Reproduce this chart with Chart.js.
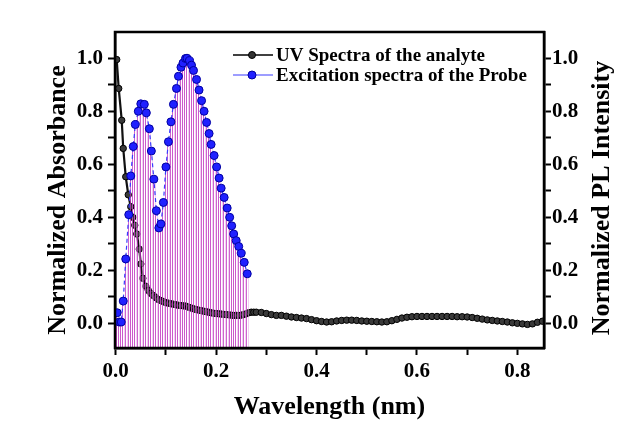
<!DOCTYPE html>
<html>
<head>
<meta charset="utf-8">
<script src="https://cdn.jsdelivr.net/npm/chart.js@4.4.1/dist/chart.umd.min.js"></script>
<style>
  body { margin: 0; background: #fff; }
  #wrap { width: 619px; height: 441px; }
</style>
</head>
<body>
<div id="wrap"><canvas id="grafico" width="619" height="441"></canvas></div>
<script>
// UV spectrum of the analyte (black)
const uvX = [0.002, 0.006, 0.012, 0.015, 0.020, 0.025, 0.030, 0.034, 0.038, 0.042, 0.047, 0.050, 0.054,
    0.060, 0.065, 0.070, 0.075, 0.080, 0.085, 0.090, 0.095, 0.100, 0.105, 0.110, 0.115, 0.120, 0.125,
    0.130, 0.135, 0.140, 0.145, 0.150, 0.155, 0.160, 0.165, 0.170, 0.175, 0.180, 0.185, 0.190, 0.195,
    0.200, 0.205, 0.210, 0.215, 0.220, 0.225, 0.230, 0.235, 0.240, 0.245, 0.250, 0.255, 0.260, 0.265,
    0.270, 0.275, 0.280, 0.290, 0.300, 0.310, 0.320, 0.330, 0.340, 0.350, 0.360, 0.370, 0.380, 0.390,
    0.400, 0.410, 0.420, 0.430, 0.440, 0.450, 0.460, 0.470, 0.480, 0.490, 0.500, 0.510, 0.520, 0.530,
    0.540, 0.550, 0.560, 0.570, 0.580, 0.590, 0.600, 0.610, 0.620, 0.630, 0.640, 0.650, 0.660, 0.670,
    0.680, 0.690, 0.700, 0.710, 0.720, 0.730, 0.740, 0.750, 0.760, 0.770, 0.780, 0.790, 0.800, 0.810,
    0.820, 0.830, 0.840, 0.850];
const uvY = [0.995, 0.886, 0.766, 0.660, 0.553, 0.485, 0.440, 0.400, 0.370, 0.337, 0.280, 0.224, 0.170,
    0.140, 0.124, 0.113, 0.105, 0.097, 0.090, 0.086, 0.082, 0.078, 0.076, 0.074, 0.072, 0.070, 0.068,
    0.067, 0.066, 0.065, 0.061, 0.058, 0.055, 0.052, 0.050, 0.048, 0.046, 0.044, 0.042, 0.040, 0.038,
    0.037, 0.036, 0.035, 0.034, 0.033, 0.032, 0.031, 0.030, 0.030, 0.030, 0.031, 0.033, 0.036, 0.040,
    0.042, 0.042, 0.042, 0.041, 0.037, 0.033, 0.030, 0.030, 0.027, 0.024, 0.022, 0.020, 0.018, 0.014,
    0.010, 0.007, 0.005, 0.006, 0.009, 0.011, 0.012, 0.012, 0.011, 0.009, 0.008, 0.007, 0.006, 0.005,
    0.006, 0.010, 0.015, 0.020, 0.023, 0.025, 0.026, 0.026, 0.026, 0.026, 0.026, 0.026, 0.026, 0.026,
    0.025, 0.025, 0.024, 0.022, 0.019, 0.016, 0.013, 0.011, 0.009, 0.007, 0.005, 0.002, 0.000, -0.002,
    -0.004, -0.002, 0.004, 0.008];

// Excitation spectrum of the probe (blue)
const exX = [0.003, 0.007, 0.011, 0.015, 0.020, 0.026, 0.030, 0.035, 0.039, 0.045, 0.050, 0.057, 0.061,
    0.067, 0.071, 0.076, 0.081, 0.086, 0.090, 0.095, 0.100, 0.105, 0.110, 0.115, 0.121, 0.125, 0.130,
    0.134, 0.139, 0.142, 0.147, 0.151, 0.155, 0.161, 0.166, 0.171, 0.176, 0.181, 0.186, 0.190, 0.196,
    0.201, 0.206, 0.210, 0.216, 0.222, 0.227, 0.231, 0.235, 0.240, 0.245, 0.250, 0.256, 0.262];
const exY = [0.040, 0.005, 0.005, 0.084, 0.243, 0.410, 0.556, 0.667, 0.750, 0.800, 0.828, 0.826, 0.794,
    0.734, 0.650, 0.544, 0.425, 0.360, 0.375, 0.456, 0.590, 0.685, 0.760, 0.826, 0.886, 0.932, 0.966,
    0.982, 0.999, 1.000, 0.991, 0.974, 0.954, 0.920, 0.880, 0.840, 0.800, 0.758, 0.716, 0.675, 0.633,
    0.590, 0.548, 0.510, 0.475, 0.435, 0.400, 0.368, 0.337, 0.312, 0.290, 0.264, 0.230, 0.187];

const legendas = ["UV Spectra of the analyte", "Excitation spectra of the Probe"];
const tituloX = "Wavelength (nm)";
const tituloY1 = "Normalized Absorbance";
const tituloY2 = "Normalized PL Intensity";

const fonte = "'Liberation Serif', 'Times New Roman', serif";

function rotuloPar(v) {
    const n = Math.round(v * 10);
    return n % 2 === 0 ? (n / 10).toFixed(1) : "";
}

// vertical drop lines from each excitation point to the bottom axis
const linhasVerticais = {
    id: "linhasVerticais",
    afterDatasetDraw(chart, args) {
        if (args.index !== 0) return;
        const meta = chart.getDatasetMeta(1);
        const ctx = chart.ctx;
        const base = chart.chartArea.bottom;
        ctx.save();
        meta.data.forEach(p => {
            ctx.strokeStyle = "rgba(232,170,232,0.55)";
            ctx.lineWidth = 1;
            ctx.beginPath();
            ctx.moveTo(Math.round(p.x) + 1.5, p.y);
            ctx.lineTo(Math.round(p.x) + 1.5, base);
            ctx.stroke();
            ctx.strokeStyle = "rgba(190,50,190,0.75)";
            ctx.beginPath();
            ctx.moveTo(Math.round(p.x) - 0.5, p.y);
            ctx.lineTo(Math.round(p.x) - 0.5, base);
            ctx.stroke();
        });
        ctx.restore();
    }
};

const moldura = {
    id: "moldura",
    afterDraw(chart) {
        const { ctx, chartArea: a } = chart;
        ctx.save();
        ctx.strokeStyle = "#000";
        ctx.lineWidth = 2.5;
        ctx.strokeRect(a.left, a.top, a.right - a.left, a.bottom - a.top);

        // legend
        const itens = [
            { y: 55, linha: "#000", ponto: "#333", borda: "#000", r: 3.5 },
            { y: 75, linha: "#7c7cff", ponto: "#2020ff", borda: "#0000a0", r: 4 }
        ];
        ctx.font = "bold 19px " + fonte;
        ctx.textBaseline = "middle";
        ctx.textAlign = "left";
        itens.forEach((it, i) => {
            ctx.strokeStyle = it.linha;
            ctx.lineWidth = 1.5;
            ctx.beginPath();
            ctx.moveTo(233, it.y);
            ctx.lineTo(273, it.y);
            ctx.stroke();
            ctx.fillStyle = it.ponto;
            ctx.strokeStyle = it.borda;
            ctx.lineWidth = 1;
            ctx.beginPath();
            ctx.arc(252, it.y, it.r, 0, Math.PI * 2);
            ctx.fill();
            ctx.stroke();
            ctx.fillStyle = "#000";
            ctx.fillText(legendas[i], 276, it.y + 1);
        });

        // y axis titles (both read bottom to top)
        ctx.font = "bold 26px " + fonte;
        ctx.textAlign = "center";
        ctx.fillStyle = "#000";
        [[58, 200, tituloY1], [602, 198, tituloY2]].forEach(([x, y, t]) => {
            ctx.save();
            ctx.translate(x, y);
            ctx.rotate(-Math.PI / 2);
            ctx.fillText(t, 0, 0);
            ctx.restore();
        });
        ctx.restore();
    }
};

const eixoY = (posicao, largura, pad) => ({
    type: "linear",
    position: posicao,
    min: -0.093,
    max: 1.099,
    afterFit(scale) { scale.width = largura; },
    border: { display: true, color: "#000", width: 2.5 },
    grid: { drawOnChartArea: false, drawTicks: true, tickLength: 7, tickWidth: 2, tickColor: "#000" },
    ticks: {
        stepSize: 0.1,
        includeBounds: false,
        autoSkip: false,
        padding: pad,
        color: "#000",
        font: { family: fonte, size: 21, weight: "bold" },
        callback: rotuloPar
    }
});

new Chart(document.getElementById("grafico"), {
    type: "line",
    data: {
        datasets: [
            {
                label: legendas[0],
                data: uvX.map((x, i) => ({ x: x, y: uvY[i] })),
                yAxisID: "y",
                borderColor: "#111",
                borderWidth: 2.2,
                pointRadius: 3.2,
                pointBackgroundColor: "#3a3a3a",
                pointBorderColor: "#000",
                pointBorderWidth: 1,
                order: 2
            },
            {
                label: legendas[1],
                data: exX.map((x, i) => ({ x: x, y: exY[i] })),
                yAxisID: "y2",
                borderColor: "#3a3aff",
                borderWidth: 1.2,
                borderDash: [4, 3],
                pointRadius: 4,
                pointBackgroundColor: "#2020ff",
                pointBorderColor: "#0000a0",
                pointBorderWidth: 1,
                order: 1
            }
        ]
    },
    options: {
        responsive: false,
        animation: false,
        devicePixelRatio: 1,
        layout: { padding: { top: 32, left: 0, right: 0, bottom: 0 } },
        plugins: {
            legend: { display: false },
            tooltip: { enabled: false }
        },
        scales: {
            x: {
                type: "linear",
                min: -0.0014,
                max: 0.853,
                afterFit(scale) { scale.height = 93; },
                border: { display: true, color: "#000", width: 2.5 },
                grid: { drawOnChartArea: false, drawTicks: true, tickLength: 7, tickWidth: 2, tickColor: "#000" },
                ticks: {
                    stepSize: 0.1,
                    includeBounds: false,
                    autoSkip: false,
                    maxRotation: 0,
                    padding: 4,
                    color: "#000",
                    font: { family: fonte, size: 21, weight: "bold" },
                    callback: rotuloPar
                },
                title: {
                    display: true,
                    text: tituloX,
                    color: "#000",
                    font: { family: fonte, size: 26, weight: "bold" },
                    padding: { top: 0, bottom: 18 }
                }
            },
            y: eixoY("left", 115, 5),
            y2: eixoY("right", 75, 1)
        }
    },
    plugins: [linhasVerticais, moldura]
});
</script>
</body>
</html>
